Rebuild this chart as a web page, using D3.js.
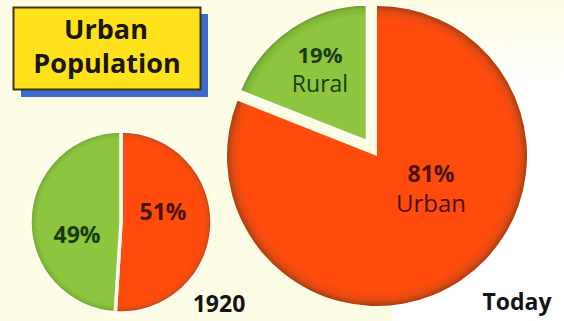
<!DOCTYPE html>
<html>
<head>
<meta charset="utf-8">
<script src="https://cdn.jsdelivr.net/npm/d3@7"></script>
<style>
  html, body { margin: 0; padding: 0; background: #fdfce4; }
  svg { display: block; }
  text { font-family: "Open Sans", "Noto Sans", sans-serif; }
</style>
</head>
<body>
<svg id="chart" width="564" height="321"></svg>
<script>
// Share of population, urban vs rural
const categories = ["Urban", "Rural"];
const values1920 = [51, 49];
const valuesToday = [81, 19];
const pieTitles = ["1920", "Today"];
const titleLines = ["Urban", "Population"];

const svg = d3.select("#chart");
const W = 564, H = 321;
const defs = svg.append("defs");

svg.append("rect").attr("width", W).attr("height", H).attr("fill", "#fdfce4");

// lighter panel behind the right-hand label, fading in from the top
const fade = defs.append("linearGradient").attr("id", "panelFade")
  .attr("x1", 0).attr("y1", 0).attr("x2", 0).attr("y2", 1);
fade.append("stop").attr("offset", "0%").attr("stop-color", "#fdfce4");
fade.append("stop").attr("offset", "25%").attr("stop-color", "#ffffff");
fade.append("stop").attr("offset", "100%").attr("stop-color", "#ffffff");
svg.append("rect").attr("x", 392).attr("y", 0).attr("width", W - 392).attr("height", H)
  .attr("fill", "url(#panelFade)");

function rimGradient(id, r, inner, mid, edge) {
  const g = defs.append("radialGradient").attr("id", id)
    .attr("gradientUnits", "userSpaceOnUse")
    .attr("cx", 0).attr("cy", 0).attr("r", r);
  g.append("stop").attr("offset", "0%").attr("stop-color", inner);
  g.append("stop").attr("offset", "91%").attr("stop-color", inner);
  g.append("stop").attr("offset", "96%").attr("stop-color", mid);
  g.append("stop").attr("offset", "100%").attr("stop-color", edge);
}

const colors = {
  Urban: { inner: "#ff4b0b", mid: "#e44b13", edge: "#ad3d0e", text: "#4a1208" },
  Rural: { inner: "#8dc53f", mid: "#7fb736", edge: "#64922a", text: "#1b3a0c" }
};

const pie = d3.pie().sort(null).value(d => d.v).startAngle(0).endAngle(2 * Math.PI);

function drawPie(opts) {
  const { values, cx, cy, radii, key, explode, sep } = opts;
  const g = svg.append("g").attr("transform", `translate(${cx},${cy})`);
  const pieData = pie(values.map((v, i) => ({ v, cat: categories[i] })));
  pieData.forEach((d, i) => {
    const r = radii[i];
    const c = colors[d.data.cat];
    const gid = `${key}-${d.data.cat}`;
    rimGradient(gid, r, c.inner, c.mid, c.edge);
    const mid = (d.startAngle + d.endAngle) / 2;
    const off = explode[i];
    const dx = Math.sin(mid) * off, dy = -Math.cos(mid) * off;
    const arc = d3.arc().innerRadius(0).outerRadius(r);
    g.append("path")
      .attr("transform", `translate(${dx},${dy})`)
      .attr("d", arc(d))
      .attr("fill", `url(#${gid})`)
      .attr("stroke", sep[i] ? "#fffdf0" : "none")
      .attr("stroke-width", sep[i] || 0)
      .attr("stroke-linejoin", "miter");
  });
  return g;
}

// 1920 pie
drawPie({
  values: values1920, cx: 121, cy: 222, radii: [91, 91], key: "p1920",
  explode: [0, 0], sep: [3.5, 3.5]
});

// Today pie, rural slice pulled out
drawPie({
  values: valuesToday, cx: 377, cy: 156, radii: [150, 138], key: "ptoday",
  explode: [0, 17], sep: [0, 3.5]
});

// slice labels
function label(x, y, text, size, weight, color) {
  svg.append("text").attr("x", x).attr("y", y).attr("text-anchor", "middle")
    .attr("font-size", size).attr("font-weight", weight).attr("fill", color).text(text);
}

label(77, 243, values1920[1] + "%", 23, 700, colors.Rural.text);
label(163, 220, values1920[0] + "%", 23, 700, colors.Urban.text);
label(320, 63, valuesToday[1] + "%", 22, 700, colors.Rural.text);
label(320, 92, categories[1], 23, 400, colors.Rural.text);
label(431, 182, valuesToday[0] + "%", 23, 700, colors.Urban.text);
label(431, 212, categories[0], 24, 400, colors.Urban.text);

// pie captions
label(219, 312, pieTitles[0], 23, 700, "#141414");
label(517, 310, pieTitles[1], 23, 700, "#141414");

// title box with shadow
svg.append("rect").attr("x", 21).attr("y", 14).attr("width", 187).attr("height", 83).attr("fill", "#3f6bd0");
svg.append("rect").attr("x", 13.5).attr("y", 7.5).attr("width", 187).attr("height", 82)
  .attr("fill", "#ffe21c").attr("stroke", "#3a3412").attr("stroke-width", 2);
label(106, 39, titleLines[0], 27, 700, "#1a1608");
label(107, 73, titleLines[1], 27, 700, "#1a1608");
</script>
</body>
</html>
